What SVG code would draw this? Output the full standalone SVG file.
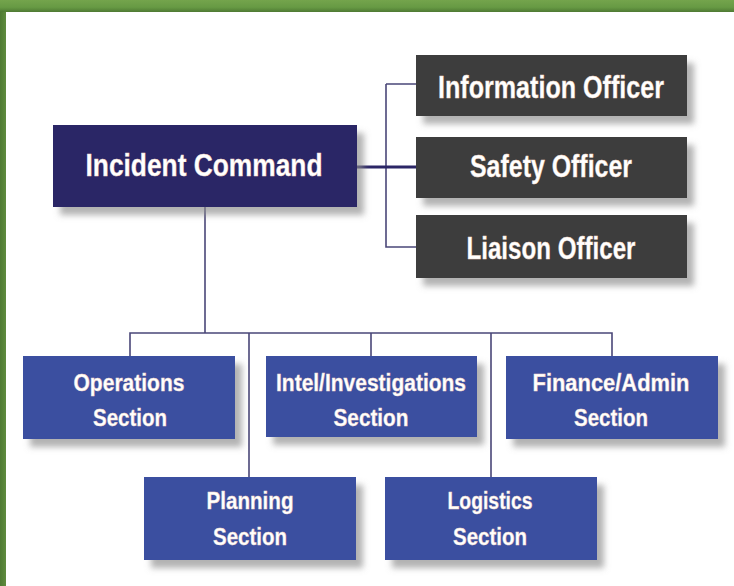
<svg xmlns="http://www.w3.org/2000/svg" width="734" height="586" viewBox="0 0 734 586">
<defs>
<linearGradient id="gTop" x1="0" y1="0" x2="0" y2="1">
<stop offset="0" stop-color="#74a44c"/><stop offset="0.6" stop-color="#679a44"/><stop offset="1" stop-color="#4f7a33"/>
</linearGradient>
<linearGradient id="gLeft" x1="0" y1="0" x2="1" y2="0">
<stop offset="0" stop-color="#4f7a33"/><stop offset="1" stop-color="#5f8c3e"/>
</linearGradient>
<filter id="sh" x="-10%" y="-20%" width="130%" height="160%">
<feDropShadow dx="7" dy="8" stdDeviation="3" flood-color="#8a8a8a" flood-opacity="0.65"/>
</filter>
</defs>
<style>
.t{font-family:"Liberation Sans",Arial,sans-serif;font-weight:bold;fill:#ffffff;text-anchor:middle;stroke:#f3d9c8;stroke-width:0.4}
.big{font-size:32px}
.sec{font-size:23.5px}
.ic{fill:#2b2666}
.off{fill:#3c3c3c}
.s{fill:#3a50a0}
.ln{fill:none;stroke:#4a4778;stroke-width:1.6}
</style>
<rect x="0" y="0" width="734" height="586" fill="#ffffff"/>
<rect x="0" y="0" width="6" height="586" fill="url(#gLeft)"/>
<rect x="0" y="0" width="734" height="12" fill="url(#gTop)"/>

<g id="connectors">
<path class="ln" d="M386,84 H416 M386,84 V247 H416"/>
<path d="M357,167 H416" fill="none" stroke="#2b2666" stroke-width="3"/>
<path class="ln" d="M205,207 V333 M130,356 V333 H612 V356 M249,333 V477 M371,333 V356 M491,333 V477"/>
</g>

<g id="incident-command">
<rect class="ic" x="53" y="125" width="304" height="82" filter="url(#sh)"/>
<text class="t big" x="204" y="176" textLength="237" lengthAdjust="spacingAndGlyphs">Incident Command</text>
</g>
<g id="information-officer">
<rect class="off" x="416" y="55" width="271" height="61" filter="url(#sh)"/>
<text class="t big" x="551" y="98" textLength="226" lengthAdjust="spacingAndGlyphs">Information Officer</text>
</g>
<g id="safety-officer">
<rect class="off" x="416" y="137" width="271" height="61" filter="url(#sh)"/>
<text class="t big" x="551" y="177" textLength="162" lengthAdjust="spacingAndGlyphs">Safety Officer</text>
</g>
<g id="liaison-officer">
<rect class="off" x="416" y="215" width="271" height="63" filter="url(#sh)"/>
<text class="t big" x="551" y="259" textLength="169" lengthAdjust="spacingAndGlyphs">Liaison Officer</text>
</g>

<g id="operations-section">
<rect class="s" x="23" y="356" width="212" height="83" filter="url(#sh)"/>
<text class="t sec" x="129" y="391" textLength="111" lengthAdjust="spacingAndGlyphs">Operations</text>
<text class="t sec" x="130" y="426" textLength="74" lengthAdjust="spacingAndGlyphs">Section</text>
</g>
<g id="intel-section">
<rect class="s" x="266" y="356" width="211" height="81" filter="url(#sh)"/>
<text class="t sec" x="371" y="391" textLength="190" lengthAdjust="spacingAndGlyphs">Intel/Investigations</text>
<text class="t sec" x="371" y="426" textLength="75" lengthAdjust="spacingAndGlyphs">Section</text>
</g>
<g id="finance-section">
<rect class="s" x="506" y="356" width="212" height="83" filter="url(#sh)"/>
<text class="t sec" x="611" y="391" textLength="157" lengthAdjust="spacingAndGlyphs">Finance/Admin</text>
<text class="t sec" x="611" y="426" textLength="74" lengthAdjust="spacingAndGlyphs">Section</text>
</g>
<g id="planning-section">
<rect class="s" x="144" y="477" width="212" height="83" filter="url(#sh)"/>
<text class="t sec" x="250" y="509" textLength="87" lengthAdjust="spacingAndGlyphs">Planning</text>
<text class="t sec" x="250" y="545" textLength="74" lengthAdjust="spacingAndGlyphs">Section</text>
</g>
<g id="logistics-section">
<rect class="s" x="385" y="477" width="212" height="83" filter="url(#sh)"/>
<text class="t sec" x="490" y="509" textLength="85" lengthAdjust="spacingAndGlyphs">Logistics</text>
<text class="t sec" x="490" y="545" textLength="74" lengthAdjust="spacingAndGlyphs">Section</text>
</g>
</svg>
